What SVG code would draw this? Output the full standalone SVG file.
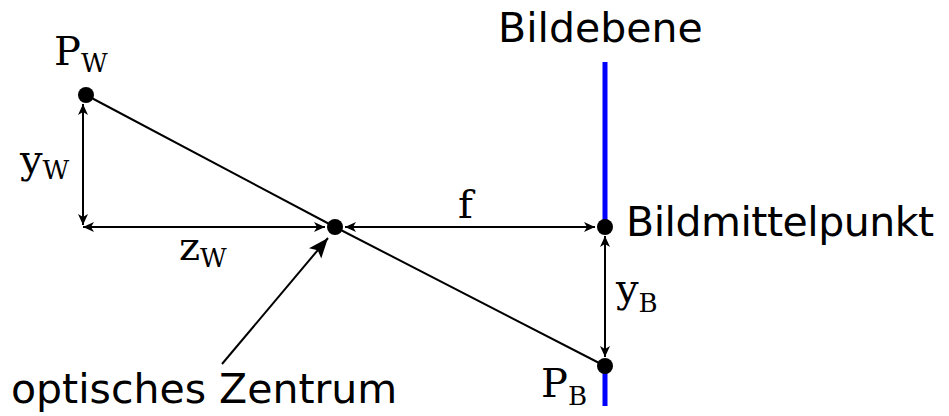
<svg xmlns="http://www.w3.org/2000/svg" width="949" height="416" viewBox="0 0 949 416">
<style>
.ln{stroke:#000;stroke-width:2;fill:none}
.dim{stroke:#000;stroke-width:2;fill:none;marker-start:url(#sa);marker-end:url(#sa)}
.dot{fill:#000}
.plane{stroke:#0000ff;stroke-width:5}
.math{font-family:"DejaVu Serif",serif;font-size:40px;fill:#000}
.sub{font-size:26px}
.lbl{font-family:"DejaVu Sans",sans-serif;font-size:41px;fill:#000}
</style>
<defs>
<marker id="sa" markerUnits="userSpaceOnUse" markerWidth="14" markerHeight="12" viewBox="-12 -6 14 12" refX="0" refY="0" orient="auto-start-reverse">
<path d="M -11,-5 L 0,0 L -11,5 L -8,0 Z" fill="#000"/>
</marker>
<marker id="ba" markerUnits="userSpaceOnUse" markerWidth="24" markerHeight="18" viewBox="-22 -9 24 18" refX="0" refY="0" orient="auto">
<path d="M -20,-8 L 0,0 L -20,8 L -16,0 Z" fill="#000"/>
</marker>
</defs>
<g id="bildebene">
<line class="plane" x1="605" y1="62" x2="605" y2="227"/>
<line class="plane" x1="605" y1="366" x2="605" y2="406"/>
<text class="lbl" x="498" y="42">Bildebene</text>
</g>
<g id="connectors">
<polyline class="ln" points="86,95 335,227 605,366"/>
<line class="dim" x1="83" y1="104" x2="83" y2="225"/>
<line class="dim" x1="83" y1="227" x2="325" y2="227"/>
<line class="dim" x1="345" y1="227" x2="595" y2="227"/>
<line class="dim" x1="605" y1="236" x2="605" y2="357"/>
<line class="ln" x1="222" y1="364" x2="328" y2="238" marker-end="url(#ba)"/>
</g>
<g id="pw">
<circle class="dot" cx="86" cy="95" r="8"/>
<text class="math" x="54" y="65">P<tspan class="sub" y="72">W</tspan></text>
</g>
<g id="yw">
<text class="math" x="20" y="173">y<tspan class="sub" y="179">W</tspan></text>
</g>
<g id="zw">
<text class="math" x="179" y="260">z<tspan class="sub" y="267">W</tspan></text>
</g>
<g id="zentrum">
<circle class="dot" cx="335" cy="227" r="8"/>
<text class="lbl" x="11" y="403">optisches Zentrum</text>
</g>
<g id="f">
<text class="math" x="458" y="218">f</text>
</g>
<g id="bildmittelpunkt">
<circle class="dot" cx="605" cy="227" r="8"/>
<text class="lbl" x="626" y="236" textLength="308">Bildmittelpunkt</text>
</g>
<g id="yb">
<text class="math" x="616" y="302">y<tspan class="sub" y="312">B</tspan></text>
</g>
<g id="pb">
<circle class="dot" cx="605" cy="366" r="8"/>
<text class="math" x="541" y="397">P<tspan class="sub" y="405">B</tspan></text>
</g>
</svg>
